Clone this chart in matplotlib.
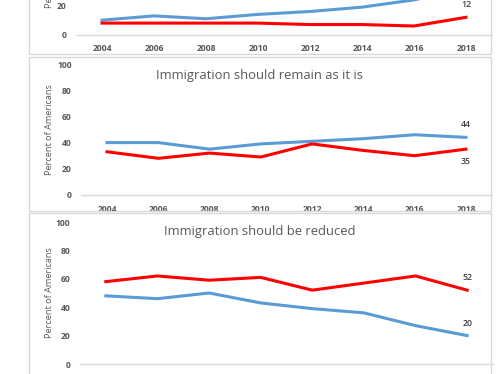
import matplotlib
matplotlib.use("Agg")
import matplotlib.pyplot as plt
from matplotlib.patches import Rectangle

years = [2004, 2006, 2008, 2010, 2012, 2014, 2016, 2018]
year_labels = [str(y) for y in years]
yticks = [0, 20, 40, 60, 80, 100]

increased_blue = [10, 13, 11, 14, 16, 19, 24, 32]
increased_red = [8, 8, 8, 8, 7, 7, 6, 12]
remain_blue = [40, 40, 35, 39, 41, 43, 46, 44]
remain_red = [33, 28, 32, 29, 39, 34, 30, 35]
reduced_blue = [48, 46, 50, 43, 39, 36, 27, 20]
reduced_red = [58, 62, 59, 61, 52, 57, 62, 52]

titles = [None, "Immigration should remain as it is", "Immigration should be reduced"]
ylabel = "Percent of Americans"

BLUE = "#5B9BD5"
RED = "#FF0000"
GRAY = "#595959"
BORDER = "#D9D9D9"

W, H = 501, 374
fig = plt.figure(figsize=(W / 100, H / 100), dpi=100)
plt.rcParams['font.family'] = ['Open Sans', 'DejaVu Sans']


def rect(x0, x1, ytop, ybot):
    return [x0 / W, 1 - ybot / H, (x1 - x0) / W, (ybot - ytop) / H]


def box(x0, x1, ytop, ybot):
    fig.patches.append(Rectangle((x0 / W, 1 - ybot / H), (x1 - x0) / W, (ybot - ytop) / H,
                                 transform=fig.transFigure, fill=False,
                                 edgecolor=BORDER, linewidth=1.0))


# panel boxes (top one is cropped by the picture edge, bottom one too)
box(29, 491, -200, 54)
box(29, 491, 57, 211)
box(29, 491, 213, 420)

panels = [
    # x0, x1, y(100), y(0), title y, blue, red, shown y ticks, show blue label, label positions, x labels
    (76, 492, 34.7 - 145, 34.7, None, increased_blue, increased_red, [0, 20], False, ('above', 'above'), True),
    (81.4, 491.6, 64, 195, 75, remain_blue, remain_red, yticks, True, ('above', 'below'), True),
    (80, 493, 222, 364, 231, reduced_blue, reduced_red, yticks, True, ('above', 'above'), False),
]

for i, (x0, x1, y100, y0, ty, blue, red, yt, show_blue, (bpos, rpos), show_x) in enumerate(panels):
    ax = fig.add_axes(rect(x0, x1, y100, y0))
    ax.set_xlim(2003, 2019)
    ax.set_ylim(0, 100)
    ax.patch.set_alpha(0)
    ax.plot(years, blue, color=BLUE, lw=2.2, solid_joinstyle='round', clip_on=False)
    ax.plot(years, red, color=RED, lw=2.2, solid_joinstyle='round', clip_on=False)
    for s in ['top', 'right', 'left']:
        ax.spines[s].set_visible(False)
    ax.spines['bottom'].set_color(BORDER)
    ax.spines['bottom'].set_linewidth(1.0)
    ax.set_xticks(years)
    if show_x:
        ax.set_xticklabels(year_labels)
    else:
        ax.set_xticklabels([])
    ax.set_yticks(yt)
    ax.tick_params(axis='both', length=0, labelsize=6.2, labelcolor=GRAY)
    ax.tick_params(axis='x', pad=7)
    ax.tick_params(axis='y', pad=7)
    for lab in ax.get_xticklabels() + ax.get_yticklabels():
        lab.set_fontweight('bold')
    # end labels
    series = [(red, rpos)]
    if show_blue:
        series.append((blue, bpos))
    for vals, pos in series:
        off = 9 if pos == 'above' else -9
        ax.annotate(str(vals[-1]), (years[-1], vals[-1]), xytext=(0, off),
                    textcoords='offset points', ha='center', va='center',
                    fontsize=6.3, color="#404040", fontweight='semibold',
                    annotation_clip=False)
    # y label
    fig.text(50 / W, 1 - ((y100 + y0) / 2) / H, ylabel, rotation=90, ha='center',
             va='center', fontsize=6.6, color=GRAY)
    if titles[i]:
        fig.text(260 / W, 1 - ty / H, titles[i], ha='center', va='center',
                 fontsize=9.4, color=GRAY)

fig.savefig("out.png", dpi=100)
